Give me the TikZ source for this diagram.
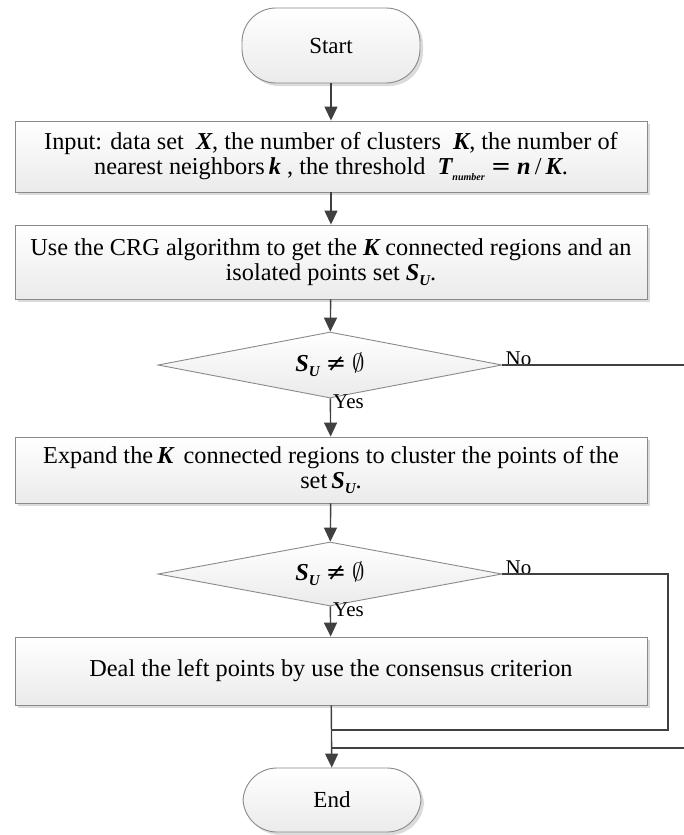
\documentclass[tikz,border=0pt]{standalone}
\usepackage{fontspec}
\setmainfont{Liberation Serif}
\newfontfamily\symfont{DejaVu Serif}
\usetikzlibrary{shapes.geometric,arrows.meta,shadows}
\newcommand\bi[1]{{\bfseries\itshape #1}}
\newcommand\SUsym{\bi{S}\raisebox{-0.45ex}{\fontsize{15}{15}\selectfont\bi{U}}}
\newcommand\notempty{{\symfont ≠}\ $\emptyset$}
\definecolor{lnc}{HTML}{404040}
\definecolor{bdc}{HTML}{8A8A8A}
\tikzset{
  boxfill/.style={top color=white,bottom color=black!8,draw=bdc,line width=0.9pt},
  procbox/.style={boxfill,rectangle,minimum width=632pt,inner sep=0pt,align=center,
    drop shadow={shadow xshift=3pt,shadow yshift=-3pt,fill=black!14,opacity=1}},
  termbox/.style={boxfill,rectangle,rounded corners=34pt,minimum width=178pt,inner sep=0pt,
    font=\fontsize{23}{26}\selectfont,
    drop shadow={shadow xshift=3pt,shadow yshift=-3pt,fill=black!14,opacity=1}},
  decbox/.style={boxfill,diamond,aspect=5.2,minimum width=344pt,inner sep=0pt},
  conn/.style={draw=lnc,line width=1.4pt},
  arr/.style={conn,-{Triangle[length=14pt,width=13pt]}},
  lbl/.style={inner sep=0pt,font=\fontsize{21}{22}\selectfont}
}
\begin{document}
\begin{tikzpicture}[x=1pt,y=-1pt,font=\fontsize{24.3}{25.5}\selectfont]
\useasboundingbox[fill=white] (0,0) rectangle (683,835);
\node[termbox,minimum height=75pt] (start) at (331,45.5) {Start};
\node[procbox,minimum height=71pt] (input) at (331,156.5)
  {Input: data set \ \bi{X}, the number of clusters \ \bi{K}, the number of\\
   nearest neighbors\,\bi{k} , the threshold \ \bi{T}\raisebox{-0.55ex}{\fontsize{10}{10}\selectfont\bi{number}}\ {\symfont =}\ \bi{n}\,/\,\bi{K}.};
\node[procbox,minimum height=74pt] (crg) at (331,262)
  {Use the CRG algorithm to get the \bi{K} connected regions and an\\
   isolated points set \SUsym.};
\node[decbox,minimum height=66pt] (d1) at (330,365) {\SUsym\ \notempty};
\node[procbox,minimum height=66pt] (expand) at (331,470)
  {Expand the\,\bi{K}\, connected regions to cluster the points of the\\
   set\,\SUsym.};
\node[decbox,minimum height=64pt] (d2) at (330,574) {\SUsym\ \notempty};
\node[procbox,minimum height=68pt] (deal) at (331,671)
  {Deal the left points by use the consensus criterion};
\node[termbox,minimum height=64pt] (end) at (332,800) {End};

\node[lbl,anchor=south west] (no1) at ([xshift=3pt,yshift=-1pt]d1.east) {No};
\node[lbl,anchor=north west] (yes1) at ([xshift=3pt,yshift=4pt]d1.south) {Yes};
\node[lbl,anchor=south west] (no2) at ([xshift=3pt,yshift=-1pt]d2.east) {No};
\node[lbl,anchor=north west] (yes2) at ([xshift=3pt,yshift=4pt]d2.south) {Yes};

\coordinate (r1) at (690,365);
\coordinate (r2) at (690,748);
\coordinate (c2) at (668,574);
\coordinate (c3) at (668,730);
\coordinate (j1) at (331,730);
\coordinate (j2) at (331,748);

\draw[arr] (start) -- (input);
\draw[arr] (input) -- (crg);
\draw[arr] (crg) -- (d1);
\draw[arr] (d1) -- (expand);
\draw[arr] (expand) -- (d2);
\draw[arr] (d2) -- (deal);
\draw[arr] (deal) -- (end);
\draw[conn] (d1.east) -- (r1);
\draw[conn] (r2) -- (j2);
\draw[conn] (d2.east) -- (c2) -- (c3) -- (j1);
\end{tikzpicture}
\end{document}
